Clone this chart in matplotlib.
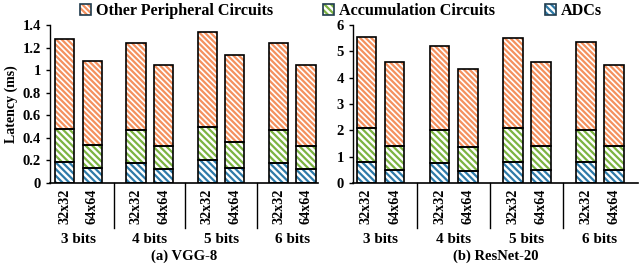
import numpy as np
import matplotlib
matplotlib.use('Agg')
import matplotlib.pyplot as plt
from matplotlib.patches import Patch
from matplotlib.legend_handler import HandlerTuple
from matplotlib.ticker import FormatStrFormatter

plt.rcParams['font.family'] = ['Liberation Serif', 'DejaVu Serif']
plt.rcParams['font.weight'] = 'bold'
plt.rcParams['axes.labelweight'] = 'bold'
plt.rcParams['font.size'] = 10
plt.rcParams['hatch.linewidth'] = 1.6

bits = ['3 bits', '4 bits', '5 bits', '6 bits']
sizes = ['32x32', '64x64']

# VGG-8, bars ordered 3b-32, 3b-64, 4b-32, ...
vgg_adc = [0.19, 0.13, 0.18, 0.12, 0.20, 0.13, 0.18, 0.12]
vgg_acc = [0.29, 0.21, 0.29, 0.21, 0.30, 0.23, 0.29, 0.21]
vgg_other = [0.80, 0.74, 0.77, 0.72, 0.84, 0.77, 0.77, 0.72]

# ResNet-20
res_adc = [0.80, 0.48, 0.76, 0.45, 0.80, 0.48, 0.78, 0.50]
res_acc = [1.30, 0.92, 1.24, 0.90, 1.30, 0.94, 1.22, 0.92]
res_other = [3.45, 3.20, 3.22, 2.97, 3.42, 3.16, 3.35, 3.08]

labels = ['Other Peripheral Circuits', 'Accumulation Circuits', 'ADCs']
colors = ['#F4915E', '#7CB342', '#2E7AA8']
hatches = ['\\' * 6, '\\' * 5, '\\' * 5]

fig = plt.figure(figsize=(6.4, 2.64), dpi=100)
ax1 = fig.add_axes([50 / 640, 81 / 264, 268 / 640, 158 / 264])
ax2 = fig.add_axes([353 / 640, 81 / 264, 285 / 640, 158 / 264])

off = 0.193
width = 0.27


def draw(ax, adc, acc, other, ymax, ystep, xlim, title):
    x = np.array([g + s for g in range(len(bits)) for s in (-off, off)])
    bottom = np.zeros(len(x))
    stack = [(adc, colors[2], hatches[2]), (acc, colors[1], hatches[1]),
             (other, colors[0], hatches[0])]
    for vals, c, h in stack:
        ax.bar(x, vals, width, bottom=bottom, color='white', edgecolor=c,
               hatch=h, linewidth=0, zorder=2)
        ax.bar(x, vals, width, bottom=bottom, color='none', edgecolor='black',
               linewidth=1.2, zorder=3)
        bottom = bottom + np.array(vals)
    ax.set_ylim(0, ymax)
    ax.set_xlim(*xlim)
    ax.set_yticks(np.arange(0, ymax + 1e-9, ystep))
    ax.yaxis.set_major_formatter(FormatStrFormatter('%g'))
    ax.set_xticks(x, sizes * len(bits), rotation=90)
    ax.tick_params(axis='x', length=0, pad=4, labelsize=10.2)
    ax.tick_params(axis='y', length=3, width=1, labelsize=10.5)
    for lbl in ax.get_xticklabels() + ax.get_yticklabels():
        lbl.set_fontweight('bold')
    for s in ['top', 'right']:
        ax.spines[s].set_visible(False)
    ax.spines['left'].set_linewidth(1)
    ax.spines['bottom'].set_linewidth(1.2)
    trans = ax.get_xaxis_transform()
    for g, b in enumerate(bits):
        ax.text(g, -0.355, b, transform=trans, ha='center', va='center',
                fontsize=11)
        if g > 0:
            ax.plot([g - 0.5, g - 0.5], [0, -0.285], color='black', lw=1,
                    transform=trans, clip_on=False)
    ax.text(0.5, -0.465, title, transform=ax.transAxes, ha='center',
            va='center', fontsize=10.5)


draw(ax1, vgg_adc, vgg_acc, vgg_other, 1.4, 0.2, (-0.40, 3.36), '(a) VGG-8')
draw(ax2, res_adc, res_acc, res_other, 6, 1, (-0.376, 3.52), '(b) ResNet-20')
ax1.set_ylabel('Latency (ms)', labelpad=3, fontsize=10)

handles = []
for c, h in zip(colors, hatches):
    handles.append((Patch(facecolor='white', edgecolor=c, hatch=h, linewidth=0),
                    Patch(facecolor='none', edgecolor='#1F3B4D', linewidth=1.2)))
fig.legend(handles, labels, handler_map={tuple: HandlerTuple(ndivide=1, pad=0)},
           loc='center', bbox_to_anchor=(341 / 640, 1 - 11 / 264), ncol=3,
           frameon=False, handlelength=0.7, handleheight=0.7,
           handletextpad=0.3, columnspacing=3.1, borderaxespad=0,
           prop={'size': 11.6, 'weight': 'bold'})

fig.savefig('out.png', dpi=100)
